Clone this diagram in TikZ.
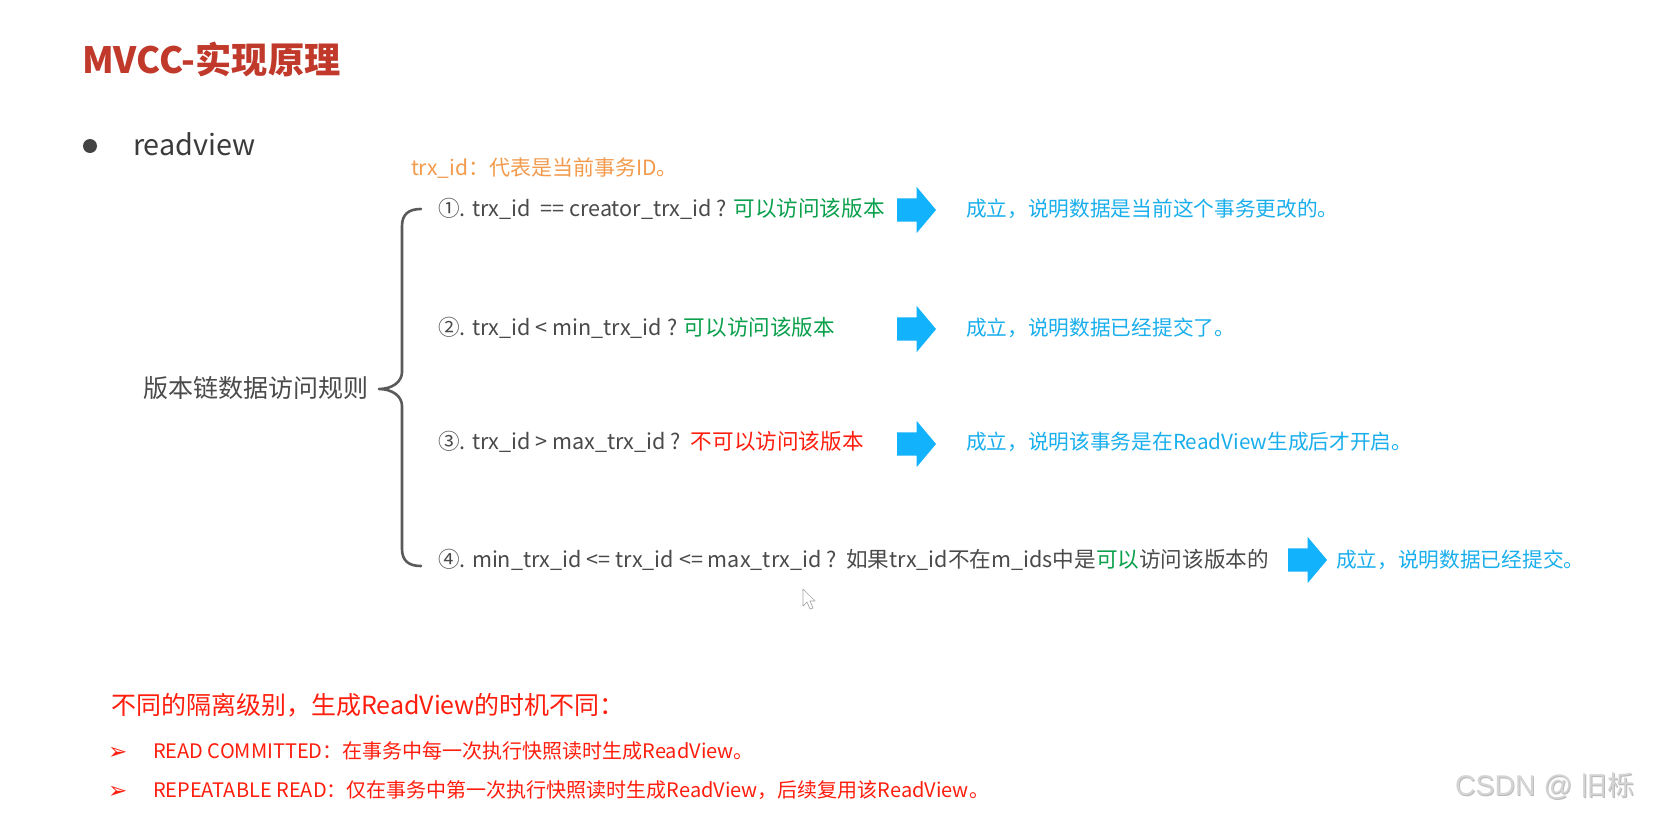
\documentclass[tikz,border=0pt]{standalone}
\usepackage{fontspec}
\setmainfont{Noto Sans CJK SC}
\newfontfamily\dvfont{DejaVu Sans}
\newfontfamily\wmfont{Liberation Sans}
\usetikzlibrary{shapes.arrows}
\definecolor{titlered}{HTML}{C0392B}
\definecolor{orangetxt}{HTML}{F39B4C}
\definecolor{graytxt}{HTML}{4A4A4A}
\definecolor{greentxt}{HTML}{0AA04C}
\definecolor{redtxt}{HTML}{FF1E0E}
\definecolor{bluetxt}{HTML}{1AAFEC}
\definecolor{arrowblue}{HTML}{12B2FC}
\definecolor{bracegray}{HTML}{5A5A5A}
\definecolor{wmgray}{HTML}{D4D4D4}
\definecolor{wmshadow}{HTML}{B8B8B8}
\begin{document}
\begin{tikzpicture}[x=1pt,y=-1pt,
  every node/.style={inner sep=0pt,outer sep=0pt},
  rowtxt/.style={anchor=base west,font=\fontsize{21.6}{21.6}\selectfont,text=graytxt},
  bluetext/.style={anchor=base west,font=\fontsize{20.7}{20.7}\selectfont,text=bluetxt},
  bottxt/.style={anchor=base west,font=\fontsize{20}{20}\selectfont,text=redtxt},
  bulletarrow/.style={anchor=base west,font=\dvfont\fontsize{23}{23}\selectfont,text=redtxt},
  bigarrow/.style={single arrow,fill=arrowblue,draw=none,inner xsep=0pt,inner ysep=11.5pt,
    minimum height=39pt,single arrow head extend=11.5pt,single arrow tip angle=100,anchor=tail},
  bracepath/.style={draw=bracegray,line width=2.6pt,line cap=round,line join=round},
  wmtxt/.style={anchor=base west,font=\wmfont\fontsize{28.5}{28.5}\selectfont}
]
\useasboundingbox[fill=white] (0,0) rectangle (1654,817);

% title
\node[anchor=base west,font=\fontsize{36.2}{36.2}\selectfont\bfseries,text=titlered] (title) at (82,73.5) {MVCC-实现原理};

% bullet + readview
\node[circle,fill=graytxt!90!black,minimum size=14pt] (bullet) at (90,146) {};
\node[anchor=base west,font=\fontsize{28.8}{28.8}\selectfont,text=graytxt!80!black] (rv) at (133,155) {readview};

% orange note
\node[anchor=base west,font=\fontsize{21}{21}\selectfont,text=orangetxt] (note) at (411,175) {trx\_id：代表是当前事务ID。};

% brace label
\node[anchor=base west,font=\fontsize{25}{25}\selectfont,text=graytxt] (label) at (143,397.5) {版本链数据访问规则};

% brace
\coordinate (btop) at (421,209);
\coordinate (bbot) at (421,566);
\coordinate (btip) at (379,389);
\draw[bracepath] (btop) .. controls (409,209) and (402,214) .. (402,226)
  -- (402,372) .. controls (402,382) and (392,389) .. (btip)
  .. controls (392,389) and (402,396) .. (402,406)
  -- (402,549) .. controls (402,561) and (409,566) .. (bbot);

% rows
\node[rowtxt] (r1) at (438,216) {①. trx\_id\ \ == creator\_trx\_id ? \textcolor{greentxt}{可以访问该版本}};
\node[rowtxt] (r2) at (438,335) {②. trx\_id < min\_trx\_id ? \textcolor{greentxt}{可以访问该版本}};
\node[rowtxt] (r3) at (438,449) {③. trx\_id > max\_trx\_id ?\ \ \textcolor{redtxt}{不可以访问该版本}};
\node[rowtxt] (r4) at (438,567) {④. min\_trx\_id <= trx\_id <= max\_trx\_id ?\ \ 如果trx\_id不在m\_ids中是\textcolor{greentxt}{可以}访问该版本的};

% arrows
\node[bigarrow] (a1) at (897,210) {};
\node[bigarrow] (a2) at (897,329) {};
\node[bigarrow] (a3) at (897,444) {};
\node[bigarrow] (a4) at (1288,560) {};

% conclusions
\node[bluetext] (c1) at (966,216) {成立，说明数据是当前这个事务更改的。};
\node[bluetext] (c2) at (966,335) {成立，说明数据已经提交了。};
\node[bluetext] (c3) at (966,449) {成立，说明该事务是在ReadView生成后才开启。};
\node[bluetext] (c4) at (1336,567) {成立，说明数据已经提交。};

% mouse cursor
\draw[fill=white,draw=gray!70,line width=0.7pt,line join=round]
  (803,589) -- (803,606) -- (807,602) -- (810,609) -- (813,608) -- (810,601) -- (815,601) -- cycle;

% bottom notes
\node[anchor=base west,font=\fontsize{25}{25}\selectfont,text=redtxt] (iso) at (111,714.5) {不同的隔离级别，生成ReadView的时机不同：};
\node[bulletarrow] (b1) at (108,759) {➢};
\node[bottxt] (l1) at (153,758.6) {READ COMMITTED：在事务中每一次执行快照读时生成ReadView。};
\node[bulletarrow] (b2) at (108,798) {➢};
\node[bottxt] (l2) at (153,797.6) {REPEATABLE READ：仅在事务中第一次执行快照读时生成ReadView，后续复用该ReadView。};

% watermark
\node[wmtxt,text=wmshadow] (wms) at (1455.8,796.3) {CSDN @ \fontspec{Noto Sans CJK SC}\fontsize{27}{27}\selectfont 旧栎};
\node[wmtxt,text=wmgray] (wm) at (1455,795.5) {CSDN @ \fontspec{Noto Sans CJK SC}\fontsize{27}{27}\selectfont 旧栎};
\end{tikzpicture}
\end{document}
